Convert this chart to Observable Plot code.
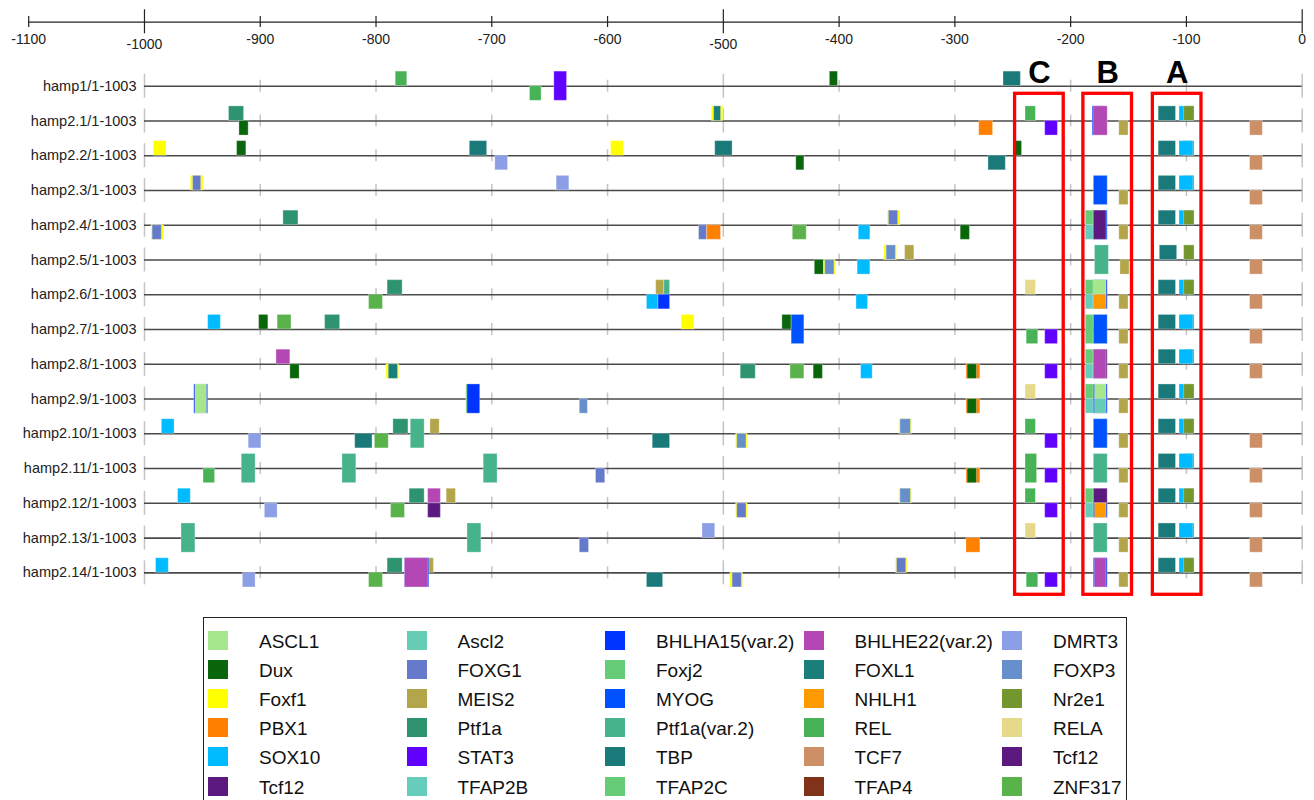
<!DOCTYPE html>
<html><head><meta charset="utf-8">
<script src="https://cdn.jsdelivr.net/npm/d3@7"></script>
<script src="https://cdn.jsdelivr.net/npm/@observablehq/plot@0.6"></script>
<style>
body{margin:0;background:#fff;font-family:"Liberation Sans",Arial,sans-serif;}
#chart{position:absolute;left:0;top:0;}
#legend{position:absolute;left:203px;top:617px;width:924px;height:200px;border:1.5px solid #222;box-sizing:border-box;background:#fff;}
.sw{position:absolute;width:20px;height:19px;}
.lb{position:absolute;font-size:19px;line-height:20px;color:#111;white-space:nowrap;}
</style></head><body>
<div id="chart"></div><div id="legend"></div>
<script>
// ---- axis ticks ----
const xTicks = [-1100,-1000,-900,-800,-700,-600,-500,-400,-300,-200,-100,0];
const majorTicks = [-1000,-500,0];
const lowLabels = [-1000,-500];

// ---- rows ----
const rowNames = ["hamp1/1-1003","hamp2.1/1-1003","hamp2.2/1-1003","hamp2.3/1-1003","hamp2.4/1-1003","hamp2.5/1-1003","hamp2.6/1-1003","hamp2.7/1-1003","hamp2.8/1-1003","hamp2.9/1-1003","hamp2.10/1-1003","hamp2.11/1-1003","hamp2.12/1-1003","hamp2.13/1-1003","hamp2.14/1-1003"];

// ---- binding sites per row: [factor, start, end, strand] ----
const hamp1 = [["REL",-783,-773,"+"],["REL",-667,-657,"-"],["STAT3",-646,-635,"b"],["Dux",-408,-401,"+"],["TBP",-258,-243,"+"]];
const hamp2_1 = [["Ptf1a",-927,-914,"+"],["Dux",-918,-910,"-"],["Foxf1",-510,-500,"+"],["FOXL1",-508,-502,"+"],["PBX1",-279,-267,"-"],["REL",-239,-230,"+"],["STAT3",-222,-211,"-"],["BHLHA15(var.2)",-181,-170,"b"],["BHLHE22(var.2)",-180,-168,"b"],["MEIS2",-158,-150,"-"],["TBP",-124,-109,"+"],["SOX10",-106,-94,"+"],["Nr2e1",-102,-93,"+"],["TCF7",-45,-34,"-"]];
const hamp2_2 = [["Foxf1",-992,-981,"+"],["Dux",-920,-912,"+"],["TBP",-719,-704,"+"],["DMRT3",-697,-686,"-"],["Foxf1",-597,-586,"+"],["TBP",-507,-492,"+"],["Dux",-437,-430,"-"],["TBP",-271,-256,"-"],["Dux",-249,-242,"+"],["TBP",-124,-109,"+"],["Nr2e1",-102,-93,"+"],["SOX10",-106,-94,"+"],["TCF7",-45,-34,"-"]];
const hamp2_3 = [["Foxf1",-960,-949,"+"],["FOXG1",-958,-951,"+"],["DMRT3",-644,-633,"+"],["MYOG",-180,-168,"b"],["MEIS2",-158,-150,"-"],["TBP",-124,-109,"+"],["Nr2e1",-102,-93,"+"],["SOX10",-106,-94,"+"],["TCF7",-45,-34,"-"]];
const hamp2_4 = [["Foxf1",-994,-983,"-"],["FOXG1",-993,-985,"-"],["Ptf1a",-880,-867,"+"],["FOXG1",-521,-514,"-"],["PBX1",-514,-502,"-"],["ZNF317",-440,-428,"-"],["SOX10",-383,-373,"-"],["Foxf1",-358,-347,"+"],["FOXG1",-357,-349,"+"],["Dux",-295,-287,"-"],["Foxj2",-187,-180,"+"],["TFAP2B",-187,-180,"-"],["MYOG",-180,-168,"b"],["Tcf12",-180,-169,"b"],["MEIS2",-158,-150,"-"],["TBP",-124,-109,"+"],["SOX10",-106,-94,"+"],["Nr2e1",-102,-93,"+"],["TCF7",-45,-34,"-"]];
const hamp2_5 = [["Dux",-421,-413,"-"],["Foxf1",-413,-403,"-"],["FOXP3",-412,-404,"-"],["SOX10",-384,-373,"-"],["Foxf1",-361,-350,"+"],["FOXP3",-359,-351,"+"],["MEIS2",-343,-335,"+"],["Ptf1a(var.2)",-179,-167,"b"],["MEIS2",-157,-149,"-"],["TBP",-123,-108,"+"],["Nr2e1",-102,-93,"+"],["TCF7",-45,-34,"-"]];
const hamp2_6 = [["ZNF317",-806,-794,"-"],["Ptf1a",-790,-777,"+"],["MEIS2",-558,-551,"+"],["Ptf1a(var.2)",-551,-546,"+"],["SOX10",-566,-556,"-"],["BHLHA15(var.2)",-556,-546,"-"],["SOX10",-385,-375,"-"],["RELA",-239,-230,"+"],["Foxj2",-187,-180,"+"],["TFAP2B",-187,-180,"-"],["BHLHA15(var.2)",-180,-168,"b"],["ASCL1",-180,-169,"+"],["NHLH1",-180,-169,"-"],["MEIS2",-158,-150,"-"],["TBP",-124,-109,"+"],["SOX10",-106,-94,"+"],["Nr2e1",-102,-93,"+"],["TCF7",-45,-34,"-"]];
const hamp2_7 = [["SOX10",-945,-934,"+"],["Dux",-901,-893,"+"],["ZNF317",-885,-873,"+"],["Ptf1a",-844,-831,"+"],["Foxf1",-536,-525,"+"],["Dux",-449,-441,"+"],["MYOG",-441,-430,"b"],["REL",-238,-228,"-"],["STAT3",-222,-211,"-"],["Foxj2",-187,-180,"b"],["MYOG",-180,-168,"b"],["MEIS2",-158,-150,"-"],["TBP",-124,-109,"+"],["Nr2e1",-102,-93,"+"],["SOX10",-106,-94,"+"],["TCF7",-45,-34,"-"]];
const hamp2_8 = [["BHLHE22(var.2)",-886,-874,"+"],["Dux",-874,-866,"-"],["Foxf1",-791,-780,"-"],["FOXL1",-789,-781,"-"],["Ptf1a",-485,-472,"-"],["ZNF317",-442,-430,"-"],["Dux",-422,-414,"-"],["SOX10",-381,-371,"-"],["PBX1",-290,-278,"-"],["Dux",-289,-281,"-"],["STAT3",-222,-211,"-"],["Foxj2",-187,-180,"+"],["TFAP2B",-187,-180,"-"],["Tcf12",-180,-168,"b"],["BHLHE22(var.2)",-180,-169,"b"],["MEIS2",-158,-150,"-"],["TBP",-124,-109,"+"],["Nr2e1",-102,-93,"+"],["SOX10",-106,-94,"+"],["TCF7",-45,-34,"-"]];
const hamp2_9 = [["BHLHA15(var.2)",-957,-945,"b"],["ASCL1",-956,-946,"b"],["Foxj2",-722,-712,"b"],["BHLHA15(var.2)",-721,-710,"b"],["FOXP3",-624,-617,"-"],["PBX1",-290,-278,"-"],["Dux",-289,-281,"-"],["RELA",-239,-230,"+"],["Foxj2",-187,-180,"+"],["TFAP2B",-187,-180,"-"],["BHLHA15(var.2)",-180,-168,"b"],["ASCL1",-179,-169,"+"],["Ascl2",-179,-169,"-"],["MEIS2",-158,-150,"-"],["TBP",-124,-109,"+"],["SOX10",-106,-94,"+"],["Nr2e1",-102,-93,"+"]];
const hamp2_10 = [["SOX10",-985,-974,"+"],["DMRT3",-910,-899,"-"],["TBP",-818,-803,"-"],["ZNF317",-801,-789,"-"],["Ptf1a",-785,-772,"+"],["Ptf1a(var.2)",-770,-758,"b"],["MEIS2",-753,-745,"+"],["TBP",-561,-546,"-"],["Foxf1",-489,-479,"-"],["FOXP3",-488,-480,"-"],["Foxf1",-348,-337,"+"],["FOXP3",-347,-338,"+"],["REL",-239,-230,"+"],["STAT3",-222,-211,"-"],["MYOG",-180,-168,"b"],["MEIS2",-158,-150,"-"],["TBP",-124,-109,"+"],["SOX10",-106,-94,"+"],["Nr2e1",-102,-93,"+"],["TCF7",-45,-34,"-"]];
const hamp2_11 = [["REL",-949,-939,"-"],["Ptf1a(var.2)",-916,-904,"b"],["Ptf1a(var.2)",-829,-817,"b"],["Ptf1a(var.2)",-707,-695,"b"],["FOXG1",-610,-602,"-"],["PBX1",-290,-278,"-"],["Dux",-289,-281,"-"],["REL",-239,-229,"b"],["STAT3",-222,-211,"-"],["Ptf1a(var.2)",-180,-168,"b"],["MEIS2",-158,-150,"-"],["TBP",-124,-109,"+"],["Nr2e1",-102,-93,"+"],["SOX10",-106,-94,"+"],["TCF7",-45,-34,"-"]];
const hamp2_12 = [["SOX10",-971,-960,"+"],["DMRT3",-896,-885,"-"],["ZNF317",-787,-775,"-"],["Ptf1a",-771,-758,"+"],["BHLHE22(var.2)",-755,-744,"+"],["Tcf12",-755,-744,"-"],["MEIS2",-739,-731,"+"],["Foxf1",-489,-479,"-"],["FOXG1",-488,-480,"-"],["Foxf1",-348,-337,"+"],["FOXP3",-347,-338,"+"],["REL",-239,-230,"+"],["STAT3",-222,-211,"-"],["Foxj2",-187,-180,"+"],["TFAP2B",-187,-180,"-"],["BHLHA15(var.2)",-180,-168,"-"],["Tcf12",-180,-168,"+"],["NHLH1",-179,-169,"-"],["MEIS2",-158,-150,"-"],["TBP",-124,-109,"+"],["SOX10",-106,-94,"+"],["Nr2e1",-102,-93,"+"],["TCF7",-45,-34,"-"]];
const hamp2_13 = [["Ptf1a(var.2)",-968,-956,"b"],["Ptf1a(var.2)",-721,-709,"b"],["FOXG1",-624,-616,"-"],["DMRT3",-518,-507,"+"],["PBX1",-290,-278,"-"],["RELA",-239,-230,"+"],["Ptf1a(var.2)",-180,-168,"b"],["MEIS2",-158,-150,"-"],["TBP",-124,-109,"+"],["Nr2e1",-102,-93,"+"],["SOX10",-106,-94,"+"],["TCF7",-45,-34,"-"]];
const hamp2_14 = [["SOX10",-990,-979,"+"],["DMRT3",-915,-904,"-"],["ZNF317",-806,-794,"-"],["Ptf1a",-790,-777,"+"],["MEIS2",-755,-750,"+"],["BHLHA15(var.2)",-775,-754,"b"],["BHLHE22(var.2)",-775,-755,"b"],["TBP",-566,-552,"-"],["Foxf1",-494,-483,"-"],["FOXG1",-492,-484,"-"],["Foxf1",-351,-341,"+"],["FOXG1",-350,-342,"+"],["REL",-238,-228,"-"],["STAT3",-222,-211,"-"],["BHLHA15(var.2)",-180,-168,"b"],["BHLHE22(var.2)",-179,-169,"b"],["MEIS2",-158,-150,"-"],["TBP",-124,-109,"+"],["SOX10",-106,-94,"+"],["Nr2e1",-102,-93,"+"],["TCF7",-45,-34,"-"]];
const rowSites = [hamp1,hamp2_1,hamp2_2,hamp2_3,hamp2_4,hamp2_5,hamp2_6,hamp2_7,hamp2_8,hamp2_9,hamp2_10,hamp2_11,hamp2_12,hamp2_13,hamp2_14];

// ---- highlighted regions ----
const regionNames = ["C","B","A"];
const regionStart = [-248,-189,-129];
const regionEnd = [-206,-147,-87];

// ---- legend ----
const legendNames = ["ASCL1","Ascl2","BHLHA15(var.2)","BHLHE22(var.2)","DMRT3","Dux","FOXG1","Foxj2","FOXL1","FOXP3","Foxf1","MEIS2","MYOG","NHLH1","Nr2e1","PBX1","Ptf1a","Ptf1a(var.2)","REL","RELA","SOX10","STAT3","TBP","TCF7","Tcf12","Tcf12","TFAP2B","TFAP2C","TFAP4","ZNF317"];
const legendColors = ["#a6e68c","#66ccb4","#0033ff","#b347b3","#8c9ee6","#0a660a","#667acc","#66cc77","#1a7f7a","#668fcc","#ffff00","#b3a64a","#0052ff","#ff9900","#74962e","#ff7f00","#2e9470","#47b38a","#47b356","#e6da8a","#00bbff","#6000ff","#1a7a7a","#cc8f66","#5c1a80","#5c1a80","#66ccbb","#66cc77","#80331a","#5ab34a"];

// ---- build ----
const sites = rowSites.flatMap((arr, i) => arr.map(([tf, start, end, strand]) => ({row: i, tf, start, end, strand})));
const colorDomain = [], colorRange = [];
legendNames.forEach((n, i) => { if (!colorDomain.includes(n)) { colorDomain.push(n); colorRange.push(legendColors[i]); } });
const regions = regionNames.map((n, i) => ({name: n, start: regionStart[i], end: regionEnd[i]}));

const ROW_TOP = 85.7, ROW_STEP = 34.76;
const py = px => (px - ROW_TOP) / ROW_STEP;
const H = 0.42;
const rowIdx = d3.range(rowNames.length);
const gridTicks = rowIdx.flatMap(r => xTicks.filter(t => t >= -1000).map(t => ({row: r, x: t, major: majorTicks.includes(t)})));

const plot = Plot.plot({
  width: 1314,
  height: 605,
  x: {domain: [-1100, 0], range: [28.2, 1301.7], axis: null},
  y: {domain: [0, 14], range: [ROW_TOP, ROW_TOP + 14 * ROW_STEP], axis: null},
  color: {type: "ordinal", domain: colorDomain, range: colorRange},
  style: {fontFamily: "'Liberation Sans', Arial, sans-serif", background: "white", overflow: "visible"},
  marks: [
    Plot.ruleX(gridTicks, {x: "x", y1: d => d.row - (d.major ? 12 : 6) / ROW_STEP, y2: d => d.row + (d.major ? 12 : 6) / ROW_STEP, stroke: "#c4c4c4", strokeWidth: 1.5}),
    Plot.ruleY(rowIdx, {y: d => d, x1: -1000, x2: 0, stroke: "#4a4a4a", strokeWidth: 1.6}),
    Plot.rect(sites, {
      x1: "start", x2: "end",
      y1: d => d.strand === "-" ? d.row : d.row - H,
      y2: d => d.strand === "+" ? d.row : d.row + H,
      fill: "tf", stroke: "white", strokeOpacity: 0.3, strokeWidth: 1
    }),
    Plot.rect(regions, {x1: "start", x2: "end", y1: py(93.3), y2: py(594.3), fill: "none", stroke: "#ff0000", strokeWidth: 3.3}),
    Plot.text(regions, {x: d => (d.start + d.end) / 2, y: py(72.5), text: "name", fontSize: 31, fontWeight: "bold", fill: "#000"}),
    Plot.ruleY([py(21.7)], {y: d => d, x1: -1100, x2: 0, stroke: "#222", strokeWidth: 1.3}),
    Plot.ruleX(xTicks.filter(t => !majorTicks.includes(t)), {x: d => d, y1: py(16), y2: py(27), stroke: "#222", strokeWidth: 1.2}),
    Plot.ruleX(majorTicks, {x: d => d, y1: py(9.3), y2: py(33.3), stroke: "#222", strokeWidth: 1.2}),
    Plot.text(xTicks, {x: d => d, y: d => lowLabels.includes(d) ? py(44.3) : py(39.3), text: d => String(d), fontSize: 14, fill: "#222"}),
    Plot.text(rowIdx, {x: -1000, y: d => d, text: d => rowNames[d], textAnchor: "end", dx: -8, fontSize: 14.5, fill: "#222"})
  ]
});
document.getElementById("chart").appendChild(plot);

// legend
const lg = document.getElementById("legend");
legendNames.forEach((n, i) => {
  const col = i % 5, row = Math.floor(i / 5);
  const sw = document.createElement("div");
  sw.className = "sw";
  sw.style.left = (4 + 198.5 * col) + "px";
  sw.style.top = (12.5 + 29.2 * row) + "px";
  sw.style.background = legendColors[i];
  lg.appendChild(sw);
  const lb = document.createElement("div");
  lb.className = "lb";
  lb.style.left = (55 + 198.5 * col) + "px";
  lb.style.top = (13.5 + 29.2 * row) + "px";
  lb.textContent = n;
  lg.appendChild(lb);
});
</script></body></html>
